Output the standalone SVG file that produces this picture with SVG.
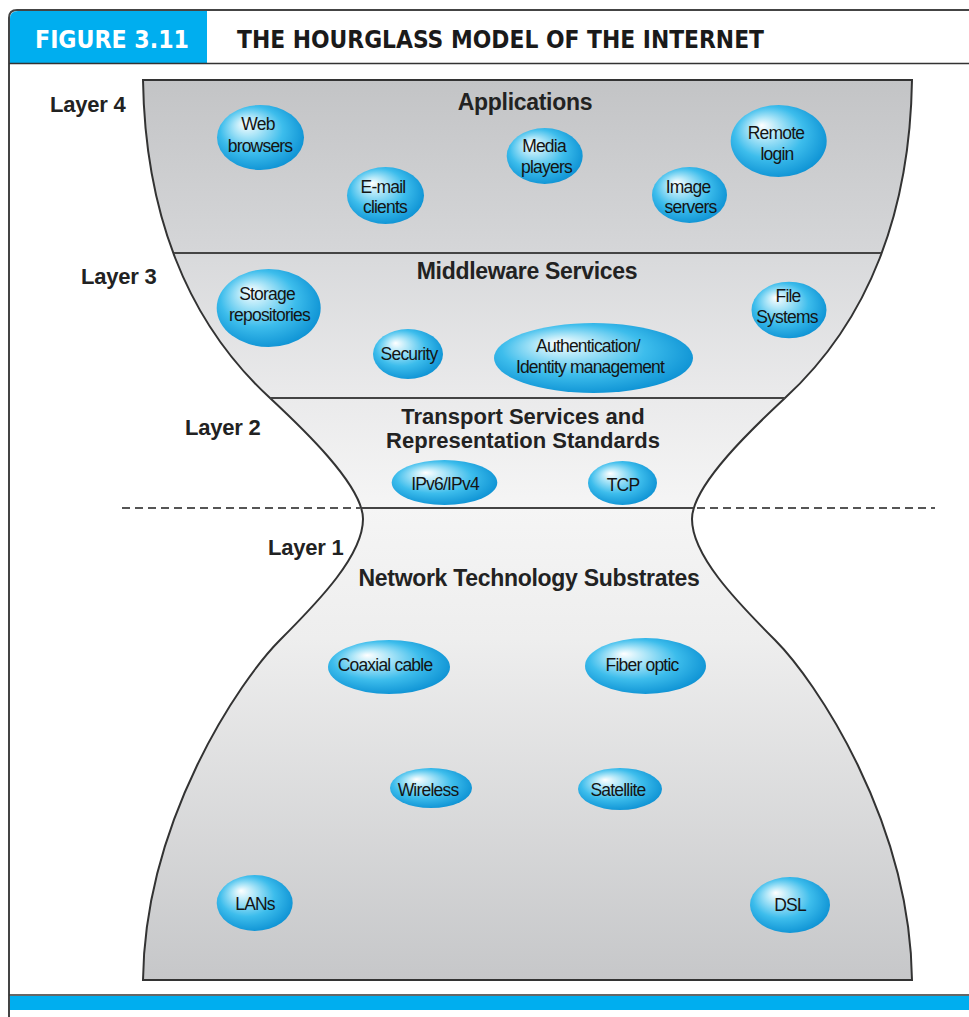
<svg xmlns="http://www.w3.org/2000/svg" width="969" height="1017" viewBox="0 0 969 1017">
<style>
.hdr{font-family:"DejaVu Sans Condensed","Liberation Sans Narrow","Liberation Sans",sans-serif;font-weight:bold;font-size:25px}
.layer{font-family:"Liberation Sans",Arial,sans-serif;font-weight:bold;font-size:22px;fill:#222;letter-spacing:-0.2px}
.title{font-family:"Liberation Sans",Arial,sans-serif;font-weight:bold;font-size:23px;fill:#222;text-anchor:middle;letter-spacing:-0.3px}
.title2{font-family:"Liberation Sans",Arial,sans-serif;font-weight:bold;font-size:22px;fill:#222;text-anchor:middle;letter-spacing:0px}
.bt{font-family:"Liberation Sans",Arial,sans-serif;font-size:17.5px;fill:#141414;text-anchor:middle;letter-spacing:-0.8px}
.bub{fill:url(#bubble)}
.div{stroke:#444;stroke-width:2;fill:none}
</style>
<defs>
<linearGradient id="glass" gradientUnits="userSpaceOnUse" x1="0" y1="80" x2="0" y2="980">
<stop offset="0" stop-color="#c3c4c6"/>
<stop offset="0.19" stop-color="#d5d6d8"/>
<stop offset="0.2" stop-color="#d9dadc"/>
<stop offset="0.35" stop-color="#eaeaeb"/>
<stop offset="0.475" stop-color="#f5f5f5"/>
<stop offset="0.62" stop-color="#eeeeee"/>
<stop offset="1" stop-color="#c6c7c9"/>
</linearGradient>
<radialGradient id="bubble" cx="0.45" cy="0.45" r="0.6" fx="0.32" fy="0.28">
<stop offset="0" stop-color="#ffffff"/>
<stop offset="0.25" stop-color="#aee6f8"/>
<stop offset="0.6" stop-color="#3dbdec"/>
<stop offset="1" stop-color="#0a8fd2"/>
</radialGradient>
</defs>
<rect x="0" y="0" width="969" height="1017" fill="#ffffff"/>
<g id="frame">
<path d="M9,1017 L9,18 Q9,10 17,10 L969,10" fill="none" stroke="#444" stroke-width="2"/>
<path d="M10,63 L10,19 Q10,11 18,11 L207,11 L207,63 Z" fill="#00aeef"/>
<line x1="9" y1="63.5" x2="969" y2="63.5" stroke="#333" stroke-width="1.5"/>
<text class="hdr" x="35" y="48" fill="#ffffff" textLength="154" lengthAdjust="spacingAndGlyphs">FIGURE 3.11</text>
<text class="hdr" x="237" y="48" fill="#1a1a1a" textLength="527" lengthAdjust="spacingAndGlyphs">THE HOURGLASS MODEL OF THE INTERNET</text>
<line x1="9" y1="995" x2="969" y2="995" stroke="#333" stroke-width="1.5"/>
<rect x="10" y="996" width="959" height="14" fill="#00aeef"/>
</g>
<g id="hourglass">
<path d="M143,80 C145,210 185,320 270,398 C300,426 363,485 363,519 C363,555 320,600 280,640 C240,680 145,820 143,980 L912,980 C910,820 815,680 775,640 C735,600 692,555 692,519 C692,485 755,426 785,398 C870,320 910,210 912,80 Z" fill="url(#glass)" stroke="#333" stroke-width="2"/>
</g>
<g id="dividers">
<line class="div" x1="174" y1="253" x2="881" y2="253"/>
<line class="div" x1="270" y1="398" x2="785" y2="398"/>
<line class="div" x1="362" y1="508" x2="693" y2="508"/>
<line x1="122" y1="508" x2="360" y2="508" stroke="#555" stroke-width="2" stroke-dasharray="8,5"/>
<line x1="697" y1="508" x2="935" y2="508" stroke="#555" stroke-width="2" stroke-dasharray="8,5"/>
</g>
<g id="layer-labels">
<text class="layer" x="50" y="112">Layer 4</text>
<text class="layer" x="81" y="284">Layer 3</text>
<text class="layer" x="185" y="435">Layer 2</text>
<text class="layer" x="268" y="555">Layer 1</text>
</g>
<g id="titles">
<text class="title" x="525" y="110">Applications</text>
<text class="title" x="527" y="279">Middleware Services</text>
<text class="title2" x="523" y="424">Transport Services and</text>
<text class="title2" x="523" y="448">Representation Standards</text>
<text class="title" x="529" y="586">Network Technology Substrates</text>
</g>
<g id="web-browsers"><ellipse class="bub" cx="260.5" cy="137.5" rx="43.5" ry="32.5"/><text class="bt" x="258" y="129.5">Web</text><text class="bt" x="260" y="152">browsers</text></g>
<g id="email-clients"><ellipse class="bub" cx="385.5" cy="195.5" rx="38.5" ry="28.5"/><text class="bt" x="383" y="193">E-mail</text><text class="bt" x="385" y="213">clients</text></g>
<g id="media-players"><ellipse class="bub" cx="544.7" cy="156" rx="38" ry="28"/><text class="bt" x="544" y="152">Media</text><text class="bt" x="546.5" y="173">players</text></g>
<g id="image-servers"><ellipse class="bub" cx="689.5" cy="195" rx="37.5" ry="28"/><text class="bt" x="688" y="193">Image</text><text class="bt" x="690.5" y="213">servers</text></g>
<g id="remote-login"><ellipse class="bub" cx="778.7" cy="141" rx="48" ry="36"/><text class="bt" x="776" y="139">Remote</text><text class="bt" x="777" y="159.5">login</text></g>
<g id="storage-repositories"><ellipse class="bub" cx="268.7" cy="308" rx="52" ry="39"/><text class="bt" x="267" y="299.5">Storage</text><text class="bt" x="269.5" y="321">repositories</text></g>
<g id="security"><ellipse class="bub" cx="408" cy="354" rx="35" ry="25"/><text class="bt" x="409" y="360">Security</text></g>
<g id="authentication"><ellipse class="bub" cx="593.5" cy="358" rx="99.5" ry="35"/><text class="bt" x="588" y="352">Authentication/</text><text class="bt" x="590" y="372.5">Identity management</text></g>
<g id="file-systems"><ellipse class="bub" cx="789" cy="310" rx="37.5" ry="28.3"/><text class="bt" x="788" y="302">File</text><text class="bt" x="787" y="323">Systems</text></g>
<g id="ipv6-ipv4"><ellipse class="bub" cx="444.5" cy="482.5" rx="52.8" ry="22.5"/><text class="bt" x="445" y="490">IPv6/IPv4</text></g>
<g id="tcp"><ellipse class="bub" cx="622.5" cy="483" rx="34.5" ry="22"/><text class="bt" x="623" y="491">TCP</text></g>
<g id="coaxial-cable"><ellipse class="bub" cx="389" cy="667" rx="61" ry="27"/><text class="bt" x="385" y="671">Coaxial cable</text></g>
<g id="fiber-optic"><ellipse class="bub" cx="645.5" cy="666" rx="60.5" ry="28"/><text class="bt" x="642" y="671">Fiber optic</text></g>
<g id="wireless"><ellipse class="bub" cx="431" cy="788" rx="41" ry="20"/><text class="bt" x="428" y="796">Wireless</text></g>
<g id="satellite"><ellipse class="bub" cx="620" cy="789" rx="42" ry="21"/><text class="bt" x="618" y="796">Satellite</text></g>
<g id="lans"><ellipse class="bub" cx="254.7" cy="903" rx="38" ry="28"/><text class="bt" x="255" y="910">LANs</text></g>
<g id="dsl"><ellipse class="bub" cx="790" cy="905" rx="40" ry="28"/><text class="bt" x="790" y="911">DSL</text></g>
</svg>
